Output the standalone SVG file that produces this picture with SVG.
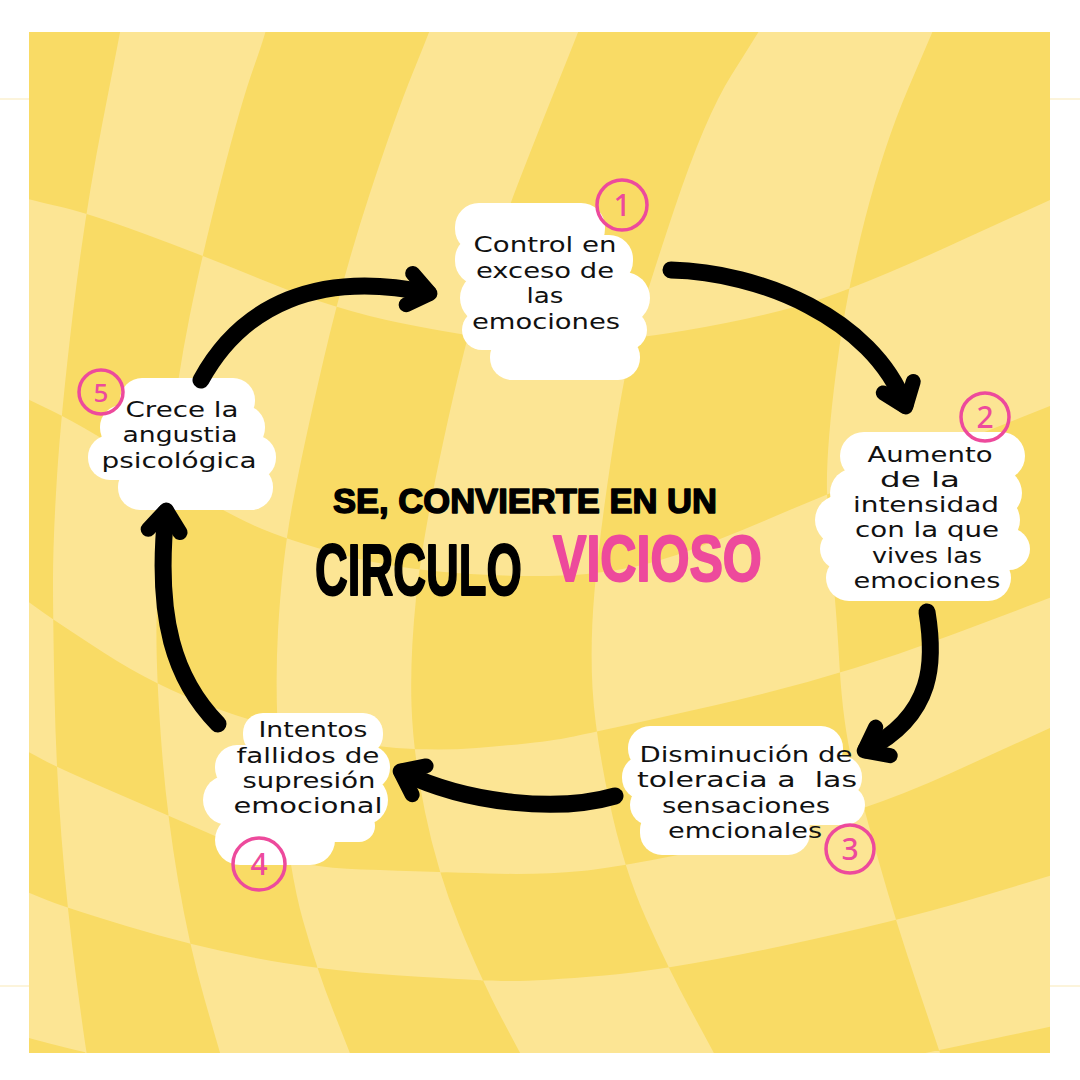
<svg xmlns="http://www.w3.org/2000/svg" width="1080" height="1080" viewBox="0 0 1080 1080">
<defs>
<style>
.blob{fill:#ffffff}
.lbl{font-family:"DejaVu Sans","Noto Sans",sans-serif;font-size:21.5px;font-weight:normal;text-anchor:middle;fill:#111111}
.badge circle{fill:none;stroke:#ED4A9C;stroke-width:3.5}
.badge text{font-family:"Noto Sans","DejaVu Sans",sans-serif;font-size:30px;font-weight:500;text-anchor:middle;fill:#ED4A9C}
.arrow{fill:none;stroke:#000000;stroke-width:17;stroke-linecap:round;stroke-linejoin:round}
.ttl{font-family:"Liberation Sans","DejaVu Sans",sans-serif;font-weight:bold;stroke-linejoin:round}
.guide{stroke:#FBF1CF;stroke-width:1.5}
</style>
<clipPath id="panelClip"><rect x="29" y="32" width="1021" height="1021"/></clipPath>
<marker id="head" viewBox="-32 -28 44 56" markerWidth="44" markerHeight="56" refX="0" refY="0" orient="auto" markerUnits="userSpaceOnUse">
<path d="M-19,-16 L2,0 L-19,16" fill="none" stroke="#000000" stroke-width="15" stroke-linecap="round" stroke-linejoin="round"/>
</marker>
</defs>

<rect x="0" y="0" width="1080" height="1080" fill="#ffffff"/>
<line class="guide" x1="0" y1="99" x2="29" y2="99"/>
<line class="guide" x1="1050" y1="99" x2="1080" y2="99"/>
<line class="guide" x1="0" y1="986" x2="29" y2="986"/>
<line class="guide" x1="1050" y1="986" x2="1080" y2="986"/>

<g id="background">
<rect x="29" y="32" width="1021" height="1021" fill="#F9DB65"/>
<path clip-path="url(#panelClip)" fill="#FCE594" fill-rule="evenodd" d="
M126,0 L123,16.5 Q120,33 102.5,122.5 Q85,212 73,312.5 Q61,413 57,476.5 Q53,540 53,580 Q53,620 54.5,693.5 Q56,767 61.5,837.5 Q67,908 76.5,980.5 Q86,1053 89,1066.5 L92,1080
L228,1080 L224,1066.5 Q220,1053 204.5,999 Q189,945 178,880 Q167,815 162,751.5 Q157,688 156.5,644 Q156,600 159,558.5 Q162,517 169.5,448 Q177,379 189.5,317 Q202,255 221.5,179 Q241,103 253.5,68 Q266,33 269.5,16.5 L273,0 Z
M441,0 L435,16.5 Q429,33 412.5,73.5 Q396,114 370,193 Q344,272 323.5,360 Q303,448 292.5,504 Q282,560 278,631 Q274,702 281.5,786.5 Q289,871 303,920.5 Q317,970 333.5,1011.5 Q350,1053 355,1066.5 L360,1080
L535,1080 L527.5,1066.5 Q520,1053 501,1017 Q482,981 459.5,926 Q437,871 425,812 Q413,753 411.5,705 Q410,657 416,598.5 Q422,540 443.5,440.5 Q465,341 482.5,285.5 Q500,230 520,178.5 Q540,127 559,80 Q578,33 584,16.5 L590,0 Z
M778,0 L768,16.5 Q758,33 731.5,75 Q705,117 674,210 Q643,303 633,341 Q623,379 611,459.5 Q599,540 594.5,591.5 Q590,643 592.5,688 Q595,733 609,800 Q623,867 646,918.5 Q669,970 691.5,1011.5 Q714,1053 721,1066.5 L728,1080
L949,1080 L944,1065 Q939,1050 917,984.5 Q895,919 879.5,864 Q864,809 853.5,767.5 Q843,726 839.5,665.5 Q836,605 832,567.5 Q828,530 827,490.5 Q826,451 836,372 Q846,293 865,219 Q884,145 908,89 Q932,33 939,16.5 L946,0 Z
M0,190 L14.5,195 Q29,200 57,206 Q85,212 143.5,233.5 Q202,255 269,282.5 Q336,310 400.5,323 Q465,336 502.5,339.5 Q540,343 581.5,342 Q623,341 685,330.5 Q747,320 796.5,306.5 Q846,293 948,246.5 Q1050,200 1065,193 L1080,186
L1080,394 L1065,400 Q1050,406 984.5,432 Q919,458 867,478.5 Q815,499 767.5,519.5 Q720,540 676.5,555 Q633,570 586.5,574 Q540,578 470,574 Q400,570 343,555 Q286,540 253,525 Q220,510 160,473.5 Q100,437 80.5,426 Q61,415 45,407.5 Q29,400 14.5,392.5 L0,385 Z
M0,582 L14.5,592 Q29,602 40.5,610.5 Q52,619 103.5,652.5 Q155,686 215,708 Q275,730 344,741.5 Q413,753 476.5,748 Q540,743 566,738 Q592,733 714,705.5 Q836,678 943,638 Q1050,598 1065,592 L1080,586
L1080,714 L1065,721 Q1050,728 950,773.5 Q850,819 736.5,843 Q623,867 581.5,871 Q540,875 488.5,873.5 Q437,872 361.5,869.5 Q286,867 226.5,841 Q167,815 111.5,791 Q56,767 42.5,759.5 Q29,752 14.5,745 L0,738 Z
M0,880 L14.5,886.5 Q29,893 48,900.5 Q67,908 128,926.5 Q189,945 253,957.5 Q317,970 399.5,975.5 Q482,981 511,981 Q540,981 604.5,975.5 Q669,970 782,946 Q895,922 972.5,899 Q1050,876 1065,871 L1080,866
L1080,1020 L1065,1023.5 Q1050,1027 994.5,1038.5 Q939,1050 869.5,1065 Q800,1080 670,1095 Q540,1110 420,1105 Q300,1100 193,1076.5 Q86,1053 57.5,1045.5 Q29,1038 14.5,1034 L0,1030 Z"/>
</g>

<g id="title">
<text class="ttl" x="333" y="513" font-size="35" fill="#000" stroke="#000" stroke-width="1.5" textLength="384" lengthAdjust="spacingAndGlyphs">SE, CONVIERTE EN UN</text>
<text class="ttl" transform="translate(315,595) scale(0.631,1)" x="0" y="0" font-size="72" fill="#000" stroke="#000" stroke-width="2">CIRCULO</text>
<text class="ttl" transform="translate(553,581) scale(0.783,1)" x="0" y="0" font-size="64" fill="#ED4A9C" stroke="#ED4A9C" stroke-width="2">VICIOSO</text>
</g>

<g id="node1">
<rect class="blob" x="455" y="203" width="150" height="50" rx="24"/>
<rect class="blob" x="455" y="235" width="178" height="50" rx="24"/>
<rect class="blob" x="460" y="272" width="190" height="52" rx="26"/>
<rect class="blob" x="462" y="310" width="185" height="40" rx="20"/>
<rect class="blob" x="490" y="335" width="150" height="45" rx="22"/>
<text class="lbl" x="545" y="252" textLength="143" lengthAdjust="spacingAndGlyphs">Control en</text>
<text class="lbl" x="545" y="278" textLength="138" lengthAdjust="spacingAndGlyphs">exceso de</text>
<text class="lbl" x="545" y="303" textLength="37" lengthAdjust="spacingAndGlyphs">las</text>
<text class="lbl" x="546" y="329" textLength="148" lengthAdjust="spacingAndGlyphs">emociones</text>
<g class="badge"><circle cx="622" cy="205" r="25"/><text x="622" y="216">1</text></g>
</g>

<g id="node2">
<rect class="blob" x="840" y="432" width="185" height="48" rx="24"/>
<rect class="blob" x="830" y="468" width="192" height="50" rx="25"/>
<rect class="blob" x="815" y="495" width="205" height="50" rx="25"/>
<rect class="blob" x="820" y="528" width="210" height="42" rx="21"/>
<rect class="blob" x="826" y="555" width="185" height="46" rx="23"/>
<text class="lbl" x="930" y="462" textLength="125" lengthAdjust="spacingAndGlyphs">Aumento</text>
<text class="lbl" x="920" y="487" textLength="80" lengthAdjust="spacingAndGlyphs">de la</text>
<text class="lbl" x="926" y="512" textLength="146" lengthAdjust="spacingAndGlyphs">intensidad</text>
<text class="lbl" x="927" y="537" textLength="144" lengthAdjust="spacingAndGlyphs">con la que</text>
<text class="lbl" x="927" y="563" textLength="110" lengthAdjust="spacingAndGlyphs">vives las</text>
<text class="lbl" x="927" y="588" textLength="147" lengthAdjust="spacingAndGlyphs">emociones</text>
<g class="badge"><circle cx="985" cy="417" r="24"/><text x="985" y="428">2</text></g>
</g>

<g id="node3">
<rect class="blob" x="628" y="726" width="215" height="45" rx="22"/>
<rect class="blob" x="622" y="755" width="240" height="45" rx="22"/>
<rect class="blob" x="630" y="785" width="235" height="40" rx="20"/>
<rect class="blob" x="640" y="808" width="170" height="47" rx="22"/>
<text class="lbl" x="746" y="762" textLength="213" lengthAdjust="spacingAndGlyphs">Disminución de</text>
<text class="lbl" x="747" y="787" textLength="220" lengthAdjust="spacingAndGlyphs" xml:space="preserve">toleracia a  las</text>
<text class="lbl" x="746" y="813" textLength="168" lengthAdjust="spacingAndGlyphs">sensaciones</text>
<text class="lbl" x="745" y="838" textLength="154" lengthAdjust="spacingAndGlyphs">emcionales</text>
<g class="badge"><circle cx="850" cy="849" r="24"/><text x="850" y="860">3</text></g>
</g>

<g id="node4">
<rect class="blob" x="243" y="713" width="140" height="42" rx="20"/>
<rect class="blob" x="215" y="745" width="175" height="45" rx="22"/>
<rect class="blob" x="203" y="775" width="185" height="50" rx="25"/>
<rect class="blob" x="215" y="815" width="120" height="50" rx="25"/>
<rect class="blob" x="300" y="810" width="75" height="32" rx="16"/>
<text class="lbl" x="313" y="737" textLength="109" lengthAdjust="spacingAndGlyphs">Intentos</text>
<text class="lbl" x="308" y="763" textLength="143" lengthAdjust="spacingAndGlyphs">fallidos de</text>
<text class="lbl" x="309" y="788" textLength="133" lengthAdjust="spacingAndGlyphs">supresión</text>
<text class="lbl" x="308" y="813" textLength="149" lengthAdjust="spacingAndGlyphs">emocional</text>
<g class="badge"><circle cx="259" cy="864" r="26"/><text x="259" y="875">4</text></g>
</g>

<g id="node5">
<rect class="blob" x="120" y="378" width="135" height="45" rx="22"/>
<rect class="blob" x="100" y="405" width="165" height="45" rx="22"/>
<rect class="blob" x="88" y="435" width="188" height="45" rx="22"/>
<rect class="blob" x="118" y="465" width="155" height="45" rx="22"/>
<text class="lbl" x="182" y="417" textLength="113" lengthAdjust="spacingAndGlyphs">Crece la</text>
<text class="lbl" x="180" y="442" textLength="115" lengthAdjust="spacingAndGlyphs">angustia</text>
<text class="lbl" x="179" y="468" textLength="155" lengthAdjust="spacingAndGlyphs">psicológica</text>
<g class="badge"><circle cx="101" cy="392" r="22"/><text x="101" y="402" style="font-size:26px">5</text></g>
</g>

<g id="connectors">
<path class="arrow" marker-end="url(#head)" d="M201,380 C242,305 318,270 428,293"/>
<path class="arrow" marker-end="url(#head)" d="M671,270 C760,272 872,318 905,405"/>
<path class="arrow" marker-end="url(#head)" d="M927,612 C935,660 935,715 866,750"/>
<path class="arrow" marker-end="url(#head)" d="M615,796 C560,812 470,805 402,772"/>
<path class="arrow" marker-end="url(#head)" d="M218,724 C175,680 155,620 166,512"/>
</g>
</svg>
